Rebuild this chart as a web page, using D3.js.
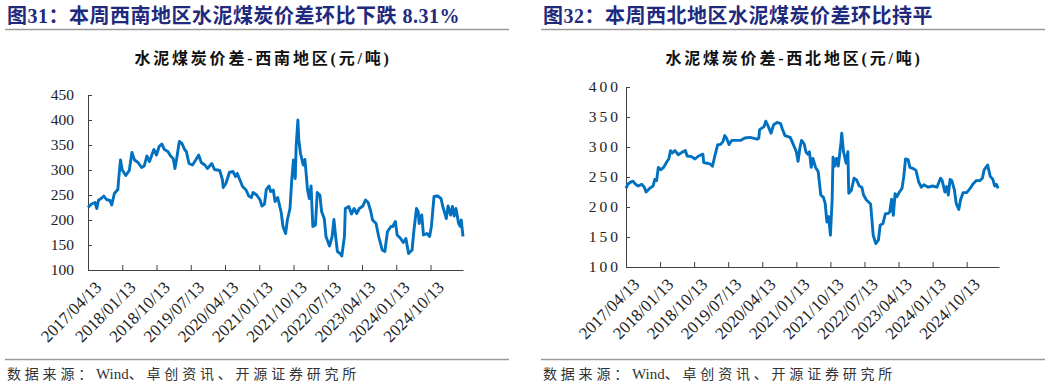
<!DOCTYPE html>
<html lang="zh">
<head>
    <meta charset="UTF-8"/>
    <title>水泥煤炭价差</title>
    <script src="https://d3js.org/d3.v7.min.js"></script>
    <style>
        body { margin: 0; background: #fff; }
        text { font-family: "Liberation Serif", "Noto Sans CJK SC", serif; }
    </style>
</head>
<body>
<div id="chart"></div>

<script>

    // x labels, one every 39 weeks (weekly data starting 2017/04/13)
    const tickLabels = ["2017/04/13", "2018/01/13", "2018/10/13", "2019/07/13", "2020/04/13", "2021/01/13",
        "2021/10/13", "2022/07/13", "2023/04/13", "2024/01/13", "2024/10/13"];
    const labelStep = 39;
    const totalWeeks = 427;

    // [week index, 元/吨]  西南地区
    const southwest = [
        [0, 225], [4, 232], [8, 235], [10, 223], [12, 240], [15, 243], [18, 248], [21, 241], [25, 239], [27, 230],
        [30, 253], [34, 261], [35, 283], [37, 320], [39, 300], [43, 289], [47, 299], [50, 335], [53, 320], [57, 315],
        [61, 305], [64, 308], [67, 328], [70, 317], [75, 341], [78, 330], [81, 347], [84, 352], [87, 341], [91, 337],
        [94, 328], [97, 323], [99, 303], [101, 323], [104, 357], [107, 353], [110, 341], [112, 337], [115, 313], [119, 310],
        [123, 321], [126, 330], [129, 315], [133, 310], [136, 303], [141, 313], [144, 301], [150, 299], [153, 281], [154, 265],
        [157, 273], [161, 295], [165, 297], [168, 287], [170, 293], [173, 280], [176, 267], [180, 260], [183, 248], [186, 245],
        [188, 255], [192, 250], [196, 240], [198, 228], [201, 232], [203, 261], [206, 268], [208, 257], [211, 260], [213, 237],
        [216, 245], [220, 215], [222, 187], [225, 173], [227, 200], [230, 223], [232, 280], [234, 320], [236, 283], [237, 347],
        [239, 400], [240, 360], [242, 333], [245, 310], [247, 321], [250, 260], [252, 243], [254, 268], [256, 187], [259, 190],
        [261, 255], [264, 250], [266, 217], [269, 203], [271, 167], [275, 148], [278, 167], [280, 201], [282, 167], [284, 137],
        [287, 133], [289, 128], [292, 167], [293, 223], [297, 227], [300, 212], [303, 223], [306, 213], [309, 223], [313, 228],
        [316, 240], [319, 235], [322, 217], [324, 200], [328, 193], [331, 167], [335, 140], [338, 137], [341, 177], [345, 187],
        [347, 187], [350, 197], [352, 170], [356, 163], [359, 155], [362, 163], [365, 133], [369, 140], [371, 177], [374, 223],
        [376, 217], [377, 193], [380, 210], [382, 170], [386, 173], [389, 167], [391, 187], [394, 247], [398, 248], [402, 243],
        [404, 227], [408, 203], [410, 228], [413, 210], [415, 227], [417, 208], [419, 223], [422, 193], [424, 187], [425, 200],
        [427, 167]
    ];

    // [week index, 元/吨]  西北地区
    const northwest = [
        [0, 231], [2, 238], [6, 242], [8, 243], [11, 238], [14, 235], [18, 238], [21, 233], [23, 225], [27, 231],
        [31, 235], [33, 246], [35, 244], [37, 266], [40, 262], [43, 266], [47, 276], [49, 280], [51, 294], [53, 290],
        [56, 294], [60, 287], [64, 291], [68, 294], [70, 285], [75, 284], [79, 280], [83, 285], [88, 288], [89, 274],
        [93, 273], [96, 272], [99, 268], [102, 287], [105, 304], [108, 304], [111, 309], [113, 319], [115, 315], [118, 304],
        [121, 311], [125, 311], [131, 311], [136, 315], [142, 316], [150, 313], [152, 315], [153, 329], [158, 334], [160, 343],
        [163, 334], [166, 323], [169, 337], [173, 341], [177, 339], [179, 330], [182, 319], [188, 316], [191, 306], [195, 292],
        [197, 276], [199, 298], [201, 311], [204, 305], [206, 292], [208, 288], [210, 292], [212, 266], [214, 281], [217, 266],
        [220, 259], [223, 220], [226, 216], [228, 206], [230, 175], [232, 184], [234, 153], [236, 212], [237, 283], [239, 268],
        [241, 281], [243, 268], [246, 306], [247, 323], [249, 292], [252, 273], [254, 292], [255, 223], [258, 228], [261, 248],
        [264, 245], [267, 235], [270, 233], [272, 220], [275, 212], [280, 205], [283, 153], [286, 139], [289, 145], [291, 170],
        [294, 172], [297, 189], [300, 189], [302, 192], [304, 213], [306, 186], [308, 222], [310, 217], [313, 225], [316, 231],
        [318, 251], [320, 280], [323, 279], [325, 266], [329, 264], [332, 261], [335, 242], [338, 233], [341, 237], [346, 233],
        [351, 235], [356, 233], [360, 248], [362, 244], [365, 225], [367, 234], [369, 220], [371, 246], [373, 244], [376, 228],
        [378, 206], [381, 196], [383, 212], [386, 224], [390, 224], [394, 231], [397, 238], [401, 244], [405, 244], [408, 248],
        [410, 262], [412, 266], [414, 270], [417, 251], [420, 246], [422, 235], [424, 238], [426, 231]
    ];

    const navy = "#1f2a7c";
    const lineBlue = "#0070c0";
    const axisColor = "#404040";

    const svg = d3.select("#chart")
        .append("svg")
        .attr("width", 1057)
        .attr("height", 386)
        .style("background", "#fff");

    function drawPanel(opt) {
        const g = svg.append("g");

        // figure heading
        g.append("text")
            .attr("x", opt.left + 7)
            .attr("y", 23)
            .style("font-size", "20px")
            .style("font-weight", "bold")
            .style("letter-spacing", "0.5px")
            .style("fill", navy)
            .text(opt.heading);

        g.append("line")
            .attr("x1", opt.left + 5).attr("x2", opt.left + 509)
            .attr("y1", 29.5).attr("y2", 29.5)
            .attr("stroke", "#9a9a9a").attr("stroke-width", 1.5);

        // chart title
        g.append("text")
            .attr("x", opt.titleX)
            .attr("y", 64)
            .attr("text-anchor", "middle")
            .style("font-size", "16px")
            .style("font-weight", "bold")
            .style("letter-spacing", "2.8px")
            .style("fill", "#111")
            .text(opt.title);

        const x = d3.scaleLinear()
            .domain([0, totalWeeks])
            .range([opt.x0, opt.x1]);
        const y = d3.scaleLinear()
            .domain([100, opt.yMax])
            .range([opt.y0, opt.y1]);

        // Y axis
        const yAxis = g.append("g")
            .attr("transform", `translate(${opt.x0}, 0)`)
            .call(d3.axisLeft(y).tickValues(d3.range(100, opt.yMax + 1, 50)).tickSize(-4).tickPadding(opt.yPad));
        yAxis.select(".domain").attr("stroke", axisColor);
        yAxis.selectAll(".tick line").attr("stroke", axisColor);
        yAxis.selectAll(".tick text")
            .style("font-size", "15.5px")
            .style("font-family", "Liberation Serif")
            .style("letter-spacing", opt.ySpacing)
            .style("fill", "#222");

        // X axis
        const tickWeeks = tickLabels.map((d, i) => i * labelStep);
        const xAxis = g.append("g")
            .attr("transform", `translate(0, ${opt.y0})`)
            .call(d3.axisBottom(x).tickValues(tickWeeks).tickSize(-5).tickSizeOuter(0).tickFormat(""));
        xAxis.select(".domain").attr("stroke", axisColor);
        xAxis.selectAll(".tick line").attr("stroke", axisColor);

        g.append("g")
            .selectAll("text")
            .data(tickLabels)
            .join("text")
            .attr("transform", (d, i) => `translate(${x(tickWeeks[i]) + 6}, ${opt.y0 + 10}) rotate(-45)`)
            .attr("text-anchor", "end")
            .attr("dy", "0.7em")
            .style("font-size", "17px")
            .style("fill", "#222")
            .text(d => d);

        // line
        g.append("path")
            .datum(opt.data)
            .attr("fill", "none")
            .attr("stroke", lineBlue)
            .attr("stroke-width", 2.9)
            .attr("stroke-linejoin", "round")
            .attr("d", d3.line().x(d => x(d[0])).y(d => y(d[1])));

        // source
        g.append("line")
            .attr("x1", opt.left + 5).attr("x2", opt.left + 509)
            .attr("y1", 359.5).attr("y2", 359.5)
            .attr("stroke", "#9a9a9a").attr("stroke-width", 1.5);

        const src = g.append("text")
            .attr("x", opt.left + 7)
            .attr("y", 379)
            .style("font-size", "14px")
            .style("fill", "#333");
        src.append("tspan").style("letter-spacing", "3.8px").text("数据来源：");
        src.append("tspan").style("font-size", "15px").text("Wind");
        src.append("tspan").style("letter-spacing", "3.8px").text("、卓创资讯、开源证券研究所");
    }

    drawPanel({
        left: 0,
        heading: "图31：本周西南地区水泥煤炭价差环比下跌 8.31%",
        title: "水泥煤炭价差-西南地区(元/吨)",
        titleX: 263,
        x0: 88, x1: 463,
        y0: 270, y1: 95,
        yMax: 450,
        yPad: 14,
        ySpacing: "0px",
        data: southwest
    });

    drawPanel({
        left: 536,
        heading: "图32：本周西北地区水泥煤炭价差环比持平",
        title: "水泥煤炭价差-西北地区(元/吨)",
        titleX: 794,
        x0: 626, x1: 999,
        y0: 267, y1: 87,
        yMax: 400,
        yPad: 5,
        ySpacing: "3px",
        data: northwest
    });

</script>
</body>
</html>
